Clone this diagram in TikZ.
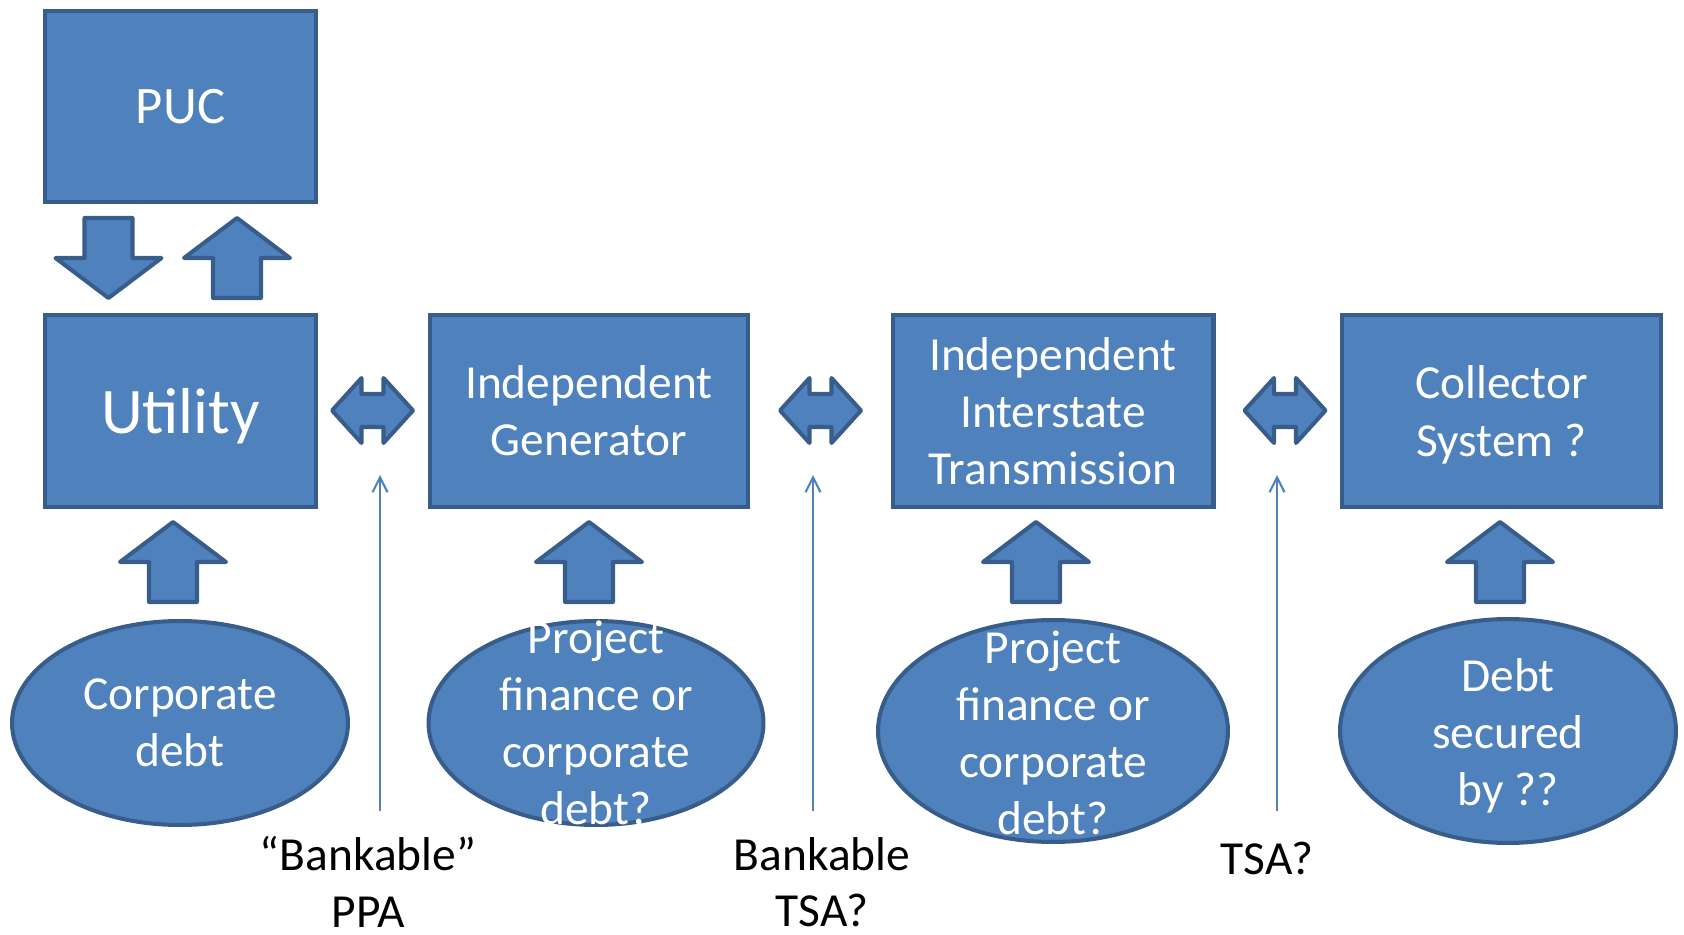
\documentclass[tikz,border=0pt]{standalone}
\usepackage{fontspec}
\setmainfont{Carlito}
\usepackage{tikz}
\usetikzlibrary{arrows.meta,shapes.geometric}

\definecolor{boxfill}{HTML}{4F81BD}
\definecolor{boxline}{HTML}{385D8A}

\begin{document}
\begin{tikzpicture}[x=0.02cm,y=-0.02cm,
    box node/.style={rectangle,draw=boxline,fill=boxfill,line width=2.3pt,minimum width=6.36cm,minimum height=3.84cm,text=white,align=center,font=\fontsize{27}{32.5}\selectfont},
    debt node/.style={ellipse,draw=boxline,fill=boxfill,line width=2.3pt,inner sep=0pt},
    debt text/.style={text=white,align=center,font=\fontsize{27}{32.5}\selectfont},
    deal text/.style={align=center,inner sep=0pt,font=\fontsize{27}{32}\selectfont},
    thin arrow/.style={-{Straight Barb[length=8.5pt,width=8.5pt]},draw=boxfill,line width=1.2pt},
    block/.style={draw=boxline,fill=boxfill,line width=2.3pt,line join=round},
    pics/up arrow/.style={code={
      \path[block] (0,0) -- (53,40) -- (24,40) -- (24,80) -- (-24,80) -- (-24,40) -- (-53,40) -- cycle;}},
    pics/both arrow/.style={code={
      \path[block] (-40.5,0) -- (-11,-32.5) -- (-11,-16.5) -- (11,-16.5) -- (11,-32.5) -- (40.5,0)
        -- (11,32.5) -- (11,16.5) -- (-11,16.5) -- (-11,32.5) -- cycle;}}]

  \useasboundingbox (0,0) rectangle (1684,935);

  % boxes
  \node[box node,minimum width=5.42cm,minimum height=3.82cm,font=\fontsize{30}{36}\selectfont] (puc) at (180.5,106.5) {PUC};
  \node[box node,minimum width=5.42cm,text depth=0pt,font=\fontsize{37}{44}\selectfont] (utility) at (180.5,411) {Utility};
  \node[box node] (generator) at (589,411) {Independent\\Generator};
  \node[box node,minimum width=6.42cm] (transmission) at (1053,411) {Independent\\Interstate\\Transmission};
  \node[box node,minimum width=6.38cm,text depth=0pt] (collector) at (1501.5,411) {Collector\\System ?};

  % financing
  \node[debt node,minimum width=6.72cm,minimum height=4.08cm] (corpdebt) at (180,723) {};
  \node[debt node,minimum width=6.70cm,minimum height=4.08cm] (genfin) at (596,723) {};
  \node[debt node,minimum width=7.00cm,minimum height=4.44cm] (transfin) at (1053,731) {};
  \node[debt node,minimum width=6.72cm,minimum height=4.48cm] (collfin) at (1508,731) {};
  \node[debt text] at (corpdebt) {Corporate\\debt};
  \node[debt text] at (genfin) {Project\\finance or\\corporate\\debt?};
  \node[debt text] at ([yshift=-0.04cm]transfin) {Project\\finance or\\corporate\\debt?};
  \node[debt text] at ([yshift=-0.1cm]collfin) {Debt\\secured\\by ??};

  % block arrows
  \pic at (108.5,298) [rotate=180] {up arrow};
  \pic at (237,218) {up arrow};
  \pic at (173,522) {up arrow};
  \pic at (589,522) {up arrow};
  \pic at (1036,522) {up arrow};
  \pic at (1500,522) {up arrow};
  \pic at (372.5,410.5) {both arrow};
  \pic at (820.5,410.5) {both arrow};
  \pic at (1285,410.5) {both arrow};

  % contracts
  \coordinate (ppa foot) at (380,811);
  \coordinate (ppa head) at (380,475);
  \coordinate (tsa foot) at (813,811);
  \coordinate (tsa head) at (813,475);
  \coordinate (coll foot) at (1277,811);
  \coordinate (coll head) at (1277,475);
  \draw[thin arrow] (ppa foot) -- (ppa head);
  \draw[thin arrow] (tsa foot) -- (tsa head);
  \draw[thin arrow] (coll foot) -- (coll head);

  \node[deal text] (ppa) at (368,882) {“Bankable”\\PPA};
  \node[deal text] (tsa) at (822,882) {Bankable\\TSA?};
  \node[deal text] (colltsa) at (1267,858) {TSA?};

\end{tikzpicture}
\end{document}
